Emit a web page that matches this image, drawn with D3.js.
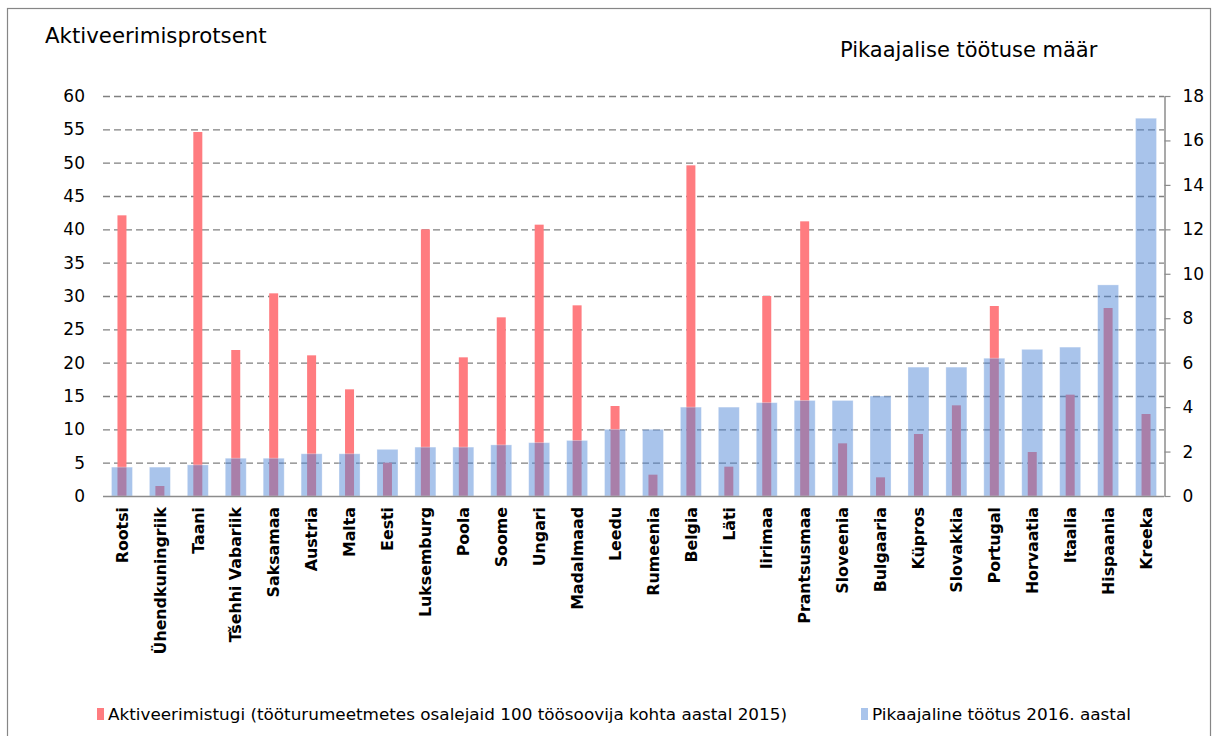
<!DOCTYPE html>
<html><head><meta charset="utf-8">
<script src="https://cdn.jsdelivr.net/npm/d3@7"></script>
<style>body{margin:0;background:#fff}svg{display:block}</style>
</head><body>
<script>
const categories = ["Rootsi","Ühendkuningriik","Taani","Tšehhi Vabariik","Saksamaa","Austria","Malta","Eesti","Luksemburg","Poola","Soome","Ungari","Madalmaad","Leedu","Rumeenia","Belgia","Läti","Iirimaa","Prantsusmaa","Sloveenia","Bulgaaria","Küpros","Slovakkia","Portugal","Horvaatia","Itaalia","Hispaania","Kreeka"];
const activation = [42.1,1.5,54.6,21.9,30.4,21.1,16.0,5.0,40.0,20.8,26.8,40.7,28.6,13.5,3.2,49.6,4.4,30.0,41.2,7.9,2.8,9.3,13.6,28.5,6.6,15.2,28.2,12.3];
const longTerm = [1.3,1.3,1.4,1.7,1.7,1.9,1.9,2.1,2.2,2.2,2.3,2.4,2.5,3.0,3.0,4.0,4.0,4.2,4.3,4.3,4.5,5.8,5.8,6.2,6.6,6.7,9.5,17.0];
const leftTicks = [0,5,10,15,20,25,30,35,40,45,50,55,60];
const rightTicks = [0,2,4,6,8,10,12,14,16,18];
const seriesNames = ["Aktiveerimistugi (tööturumeetmetes osalejaid 100 töösoovija kohta aastal 2015)","Pikaajaline töötus 2016. aastal"];
const axisTitles = ["Aktiveerimisprotsent","Pikaajalise töötuse määr"];

const W=1213,H=736;
const svg=d3.select("body").append("svg").attr("width",W).attr("height",H);
const FONT="'DejaVu Sans', Verdana, sans-serif";
svg.append("rect").attr("x",7.5).attr("y",8.5).attr("width",1203).attr("height",740)
  .attr("fill","#fff").attr("stroke","#868686").attr("stroke-width",1.2);

const x=d3.scaleBand().domain(categories).range([103,1165]).padding(0);
const yL=d3.scaleLinear().domain([0,60]).range([496,96]);
const yR=d3.scaleLinear().domain([0,18]).range([496,96]);

// grid
svg.append("g").selectAll("line").data(leftTicks.filter(d=>d>0)).join("line")
  .attr("x1",103).attr("x2",1164).attr("y1",d=>yL(d)+0.5).attr("y2",d=>yL(d)+0.5)
  .attr("stroke","#808080").attr("stroke-width",1.3).attr("stroke-dasharray","7,4");

const bw=x.step();
// red bars
svg.append("g").selectAll("rect").data(activation).join("rect")
  .attr("x",(d,i)=>x(categories[i])+bw/2-4.5).attr("width",9)
  .attr("y",d=>yL(d)).attr("height",d=>yL(0)-yL(d))
  .attr("fill","#ff7c80");
// blue bars
svg.append("g").selectAll("rect").data(longTerm).join("rect")
  .attr("x",(d,i)=>x(categories[i])+bw/2-10.5).attr("width",21)
  .attr("y",d=>yR(d)).attr("height",d=>yR(0)-yR(d))
  .attr("fill","rgb(76,132,213)").attr("fill-opacity",0.48)
  .attr("stroke","#fff").attr("stroke-opacity",0.4).attr("stroke-width",0.8);

// baseline
svg.append("line").attr("x1",103).attr("x2",1164).attr("y1",496.5).attr("y2",496.5)
  .attr("stroke","#8c8c8c").attr("stroke-width",1.5);

// left axis labels
const gl=svg.append("g").attr("transform","translate(85,0)")
  .call(d3.axisLeft(yL).tickValues(leftTicks).tickSize(0).tickPadding(0));
gl.select(".domain").remove();
gl.selectAll("text").attr("font-family",FONT).attr("font-size",17).attr("fill","#000");

// right axis
const gr=svg.append("g").attr("transform","translate(1164.5,0)")
  .call(d3.axisRight(yR).tickValues(rightTicks).tickSize(6).tickPadding(12).tickSizeOuter(0));
gr.select(".domain").attr("stroke","#8c8c8c").attr("stroke-width",1.5);
gr.selectAll(".tick line").attr("stroke","#8c8c8c").attr("stroke-width",1.2);
gr.selectAll("text").attr("font-family",FONT).attr("font-size",17).attr("fill","#000");

// x labels
svg.append("g").selectAll("text").data(categories).join("text")
  .attr("transform",d=>`translate(${x(d)+bw/2},507) rotate(-90)`)
  .attr("dy","0.36em").attr("text-anchor","end")
  .attr("font-family",FONT).attr("font-weight","bold").attr("font-size",15.8).attr("fill","#000")
  .text(d=>d);

// titles
svg.append("text").attr("x",45).attr("y",43).attr("font-family",FONT).attr("font-size",21.3).text(axisTitles[0]);
svg.append("text").attr("x",840).attr("y",57).attr("font-family",FONT).attr("font-size",21).text(axisTitles[1]);

// legend
const leg=[{x:97,c:"#ff7c80",o:1,t:seriesNames[0],w:679},{x:861,c:"rgb(76,132,213)",o:0.48,t:seriesNames[1],w:259}];
leg.forEach(l=>{
  svg.append("rect").attr("x",l.x).attr("y",708).attr("width",7).attr("height",12).attr("fill",l.c).attr("fill-opacity",l.o);
  svg.append("text").attr("x",l.x+11).attr("y",720).attr("font-family",FONT).attr("font-size",15.5)
    .attr("textLength",l.w).attr("lengthAdjust","spacingAndGlyphs").text(l.t);
});
</script>
</body></html>
